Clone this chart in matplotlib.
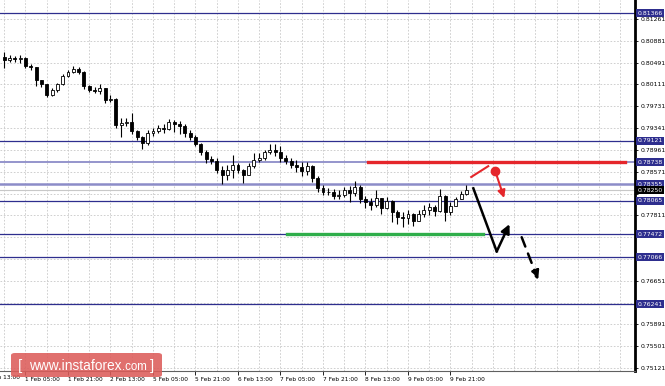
import numpy as np
import matplotlib.pyplot as plt
from matplotlib.patches import FancyBboxPatch

# candles, 2 hours each, open of a candle = close of the one before
first_open = 0.8060
closes = [0.8054, 0.8057, 0.8056, 0.8057, 0.8043, 0.8042, 0.8019, 0.8012, 0.7992, 0.8001,
          0.8012, 0.8026, 0.8033, 0.8038, 0.8033, 0.8008, 0.8001, 0.7999, 0.8005, 0.7984,
          0.7985, 0.7940, 0.7943, 0.7945, 0.7929, 0.7918, 0.7908, 0.7925, 0.7929, 0.7934,
          0.7932, 0.7945, 0.7941, 0.7938, 0.7925, 0.7918, 0.7906, 0.7892, 0.7880, 0.7876,
          0.7860, 0.7852, 0.7860, 0.7869, 0.7860, 0.7852, 0.7867, 0.7878, 0.7881, 0.7892,
          0.7896, 0.7892, 0.7881, 0.7876, 0.7869, 0.7866, 0.7859, 0.7867, 0.7846, 0.7829,
          0.7822, 0.7822, 0.7815, 0.7816, 0.7825, 0.7820, 0.7830, 0.7809, 0.7804, 0.7799,
          0.7811, 0.7793, 0.7806, 0.7786, 0.7778, 0.7776, 0.7783, 0.7771, 0.7783, 0.7790,
          0.7795, 0.7788, 0.7815, 0.7786, 0.7797, 0.7809, 0.7818, 0.7825]
highs = [0.8068, 0.8063, 0.8061, 0.8063, 0.8060, 0.8047, 0.8042, 0.8019, 0.8012, 0.8005,
         0.8013, 0.8029, 0.8036, 0.8043, 0.8042, 0.8035, 0.8010, 0.8006, 0.8012, 0.8005,
         0.7992, 0.7987, 0.7952, 0.7952, 0.7961, 0.7931, 0.7920, 0.7931, 0.7934, 0.7940,
         0.7941, 0.7950, 0.7948, 0.7947, 0.7941, 0.7931, 0.7922, 0.7908, 0.7896, 0.7885,
         0.7881, 0.7867, 0.7869, 0.7887, 0.7873, 0.7862, 0.7873, 0.7890, 0.7890, 0.7896,
         0.7906, 0.7906, 0.7903, 0.7887, 0.7881, 0.7878, 0.7874, 0.7874, 0.7869, 0.7850,
         0.7834, 0.7829, 0.7827, 0.7825, 0.7830, 0.7832, 0.7841, 0.7834, 0.7815, 0.7811,
         0.7825, 0.7811, 0.7813, 0.7808, 0.7790, 0.7786, 0.7790, 0.7785, 0.7790, 0.7799,
         0.7802, 0.7799, 0.7827, 0.7816, 0.7804, 0.7813, 0.7823, 0.7834]
lows = [0.8040, 0.8050, 0.8050, 0.8049, 0.8040, 0.8036, 0.8008, 0.8006, 0.7989, 0.7991,
        0.7998, 0.8010, 0.8024, 0.8031, 0.8029, 0.8003, 0.7998, 0.7996, 0.7994, 0.7978,
        0.7980, 0.7934, 0.7918, 0.7938, 0.7924, 0.7913, 0.7897, 0.7904, 0.7920, 0.7925,
        0.7925, 0.7931, 0.7927, 0.7924, 0.7918, 0.7913, 0.7903, 0.7887, 0.7873, 0.7871,
        0.7855, 0.7836, 0.7843, 0.7846, 0.7855, 0.7837, 0.7852, 0.7864, 0.7874, 0.7878,
        0.7888, 0.7885, 0.7874, 0.7871, 0.7864, 0.7857, 0.7850, 0.7852, 0.7839, 0.7822,
        0.7816, 0.7816, 0.7809, 0.7809, 0.7813, 0.7804, 0.7815, 0.7802, 0.7793, 0.7790,
        0.7795, 0.7783, 0.7792, 0.7769, 0.7765, 0.7760, 0.7765, 0.7762, 0.7771, 0.7778,
        0.7781, 0.7779, 0.7786, 0.7771, 0.7781, 0.7797, 0.7809, 0.7816]

levels = [0.81366, 0.79121, 0.78738, 0.78355, 0.78065, 0.77472, 0.77066, 0.76241]
bid = 0.78250
ytick_vals = [0.81261, 0.80881, 0.80491, 0.80111, 0.79731, 0.79341, 0.78961, 0.78571, 0.78181,
              0.77811, 0.77431, 0.77041, 0.76651, 0.76271, 0.75891, 0.75501, 0.75121]
hidden_ticks = [0.78181, 0.77431, 0.77041, 0.76271]   # covered by the price boxes
xtick_pos = [4, 12, 20, 28, 36, 44, 52, 60, 68, 76, 84]
xtick_labels = ['1 Feb 05:00', '1 Feb 21:00', '2 Feb 13:00', '5 Feb 05:00', '5 Feb 21:00',
                '6 Feb 13:00', '7 Feb 05:00', '7 Feb 21:00', '8 Feb 13:00', '9 Feb 05:00',
                '9 Feb 21:00']

# forecast drawings
resist_x = [68.5, 116.9]   # red level
support_x = [53.2, 90.1]   # green level
red_seg_x, red_seg_y = [87.9, 91.1], [0.7848, 0.7867]
red_dot = (92.4, 0.7859)
red_arrow_end = (94.1, 0.7811)
blk_x, blk_y = [88.3, 92.7, 95.1], [0.7828, 0.7717, 0.7765]
dash_x, dash_y = [97.4, 100.5], [0.7742, 0.7667]

navy = '#2e2e8e'
lav = '#8c8cc8'

fig = plt.figure(figsize=(6.65, 3.86), dpi=100)
ax = fig.add_axes([0, 15 / 386, 635 / 665, 371 / 386])

opens = [first_open] + closes[:-1]
x = np.arange(len(closes))
ax.vlines(x, lows, highs, color='black', lw=0.8, zorder=3)
for i in range(len(closes)):
    o, c = opens[i], closes[i]
    up = c >= o
    ax.bar(x[i], max(abs(c - o), 0.00003), bottom=min(o, c), width=0.55,
           color='white' if up else 'black', edgecolor='black', lw=0.6, zorder=4)

# horizontal levels
for lv in levels:
    if lv in (0.78738, 0.78355):
        ax.axhline(lv, color=lav, lw=1.8 if lv == 0.78355 else 1.3, zorder=2)
    else:
        ax.axhline(lv, color=navy, lw=0.9, zorder=2)
ax.axhline(bid, color='#c8c8c8', lw=0.8, zorder=1.5)

ax.plot(resist_x, [0.78738, 0.78738], color='#e5262b', lw=2.4, zorder=5)
ax.plot(support_x, [0.77472, 0.77472], color='#2fae4a', lw=2.4, zorder=5)

ax.plot(red_seg_x, red_seg_y, color='#e5262b', lw=1.5, zorder=6)
ax.plot(*red_dot, 'o', color='#e5262b', ms=6, zorder=6)
ax.annotate('', xy=red_arrow_end, xytext=red_dot,
            arrowprops=dict(arrowstyle='-|>', color='#e5262b', lw=1.5, mutation_scale=11,
                            shrinkA=0, shrinkB=0), zorder=6)
ax.plot(blk_x[:2], blk_y[:2], color='black', lw=1.8, zorder=6)
ax.annotate('', xy=(blk_x[2], blk_y[2]), xytext=(blk_x[1], blk_y[1]),
            arrowprops=dict(arrowstyle='-|>', color='black', lw=1.8, mutation_scale=13,
                            shrinkA=0, shrinkB=0), zorder=6)
ax.annotate('', xy=(dash_x[1], dash_y[1]), xytext=(dash_x[0], dash_y[0]),
            arrowprops=dict(arrowstyle='-|>', color='black', lw=1.8, mutation_scale=13,
                            linestyle=(0, (4, 3)), shrinkA=0, shrinkB=0), zorder=6)

# axes
ax.set_xlim(-0.8, -0.8 + 635 / 5.3125)
ax.set_ylim(0.81595 - 371 * 0.000176, 0.81595)
ax.yaxis.tick_right()
ax.set_yticks(ytick_vals)
ax.set_yticklabels(['' if v in hidden_ticks else '%.5f' % v for v in ytick_vals])
ax.set_xticks(xtick_pos)
ax.set_xticklabels(xtick_labels, ha='left')
ax.set_xticks(np.arange(0, 119, 4), minor=True)
ax.tick_params(axis='y', labelsize=4.4, length=2, width=0.6, pad=2)
ax.tick_params(axis='x', labelsize=4.2, length=3, width=0.6, pad=1)
ax.tick_params(axis='x', which='minor', length=0)
ax.grid(True, which='both', axis='x', color='#c8c8c8', lw=0.6, linestyle=(0, (2, 2)))
ax.grid(True, which='major', axis='y', color='#c8c8c8', lw=0.6, linestyle=(0, (2, 2)))
ax.set_axisbelow(True)
for s in ['top', 'left']:
    ax.spines[s].set_visible(False)
ax.spines['right'].set_linewidth(2)
ax.spines['bottom'].set_linewidth(0.8)
ax.spines['bottom'].set_color('#606060')
ax.text(-4, -0.011, '31 Jan 13:00', transform=ax.get_xaxis_transform(), fontsize=4.2,
        ha='left', va='top', clip_on=False)

# price boxes on the right axis
tr = ax.get_yaxis_transform()
for lv in levels:
    ax.text(1.004, lv, '%.5f' % lv, transform=tr, fontsize=4.4, color='white', ha='left',
            va='center', clip_on=False, zorder=10,
            bbox=dict(boxstyle='square,pad=0.25', fc=navy, ec='none'))
ax.text(1.004, bid, '%.5f' % bid, transform=tr, fontsize=4.4, color='white', ha='left',
        va='center', clip_on=False, zorder=11,
        bbox=dict(boxstyle='square,pad=0.25', fc='black', ec='none'))

# watermark
W, H = 665, 386
fig.patches.append(FancyBboxPatch((11 / W, (H - 377) / H), 151 / W, 24 / H,
                                  boxstyle='round,pad=0,rounding_size=0.006',
                                  transform=fig.transFigure, fc='#dc5c5a', ec='none',
                                  alpha=0.88, zorder=20))
wm = dict(color='white', family='Liberation Sans', va='baseline', zorder=21)
fig.text(18 / W, (H - 370) / H, '[', fontsize=11, **wm)
fig.text(29 / W, (H - 370) / H, 'www.instaforex', fontsize=9.9, **wm)
fig.text(122 / W, (H - 370) / H, '.com', fontsize=8.3, **wm)
fig.text(150 / W, (H - 370) / H, ']', fontsize=11, **wm)

fig.savefig('out.png', dpi=100, facecolor='white')
